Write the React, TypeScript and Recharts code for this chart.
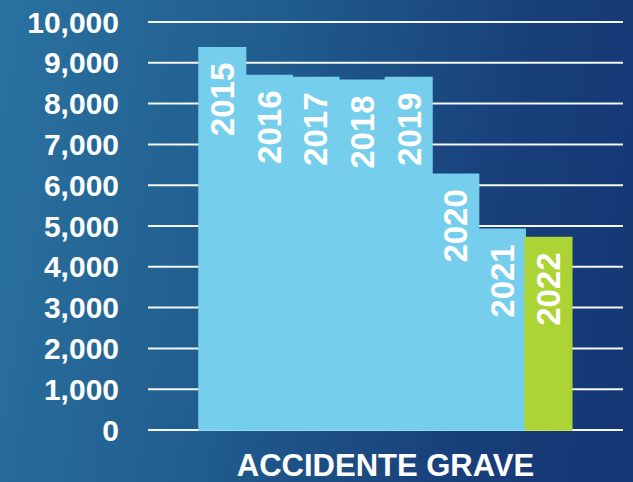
import { BarChart, Bar, XAxis, YAxis, CartesianGrid } from "recharts";

const CATEGORY = "ACCIDENTE GRAVE";
const YEARS = ["2015", "2016", "2017", "2018", "2019", "2020", "2021", "2022"];
const VALUES = [9370, 8690, 8640, 8570, 8640, 6270, 4920, 4720];
const COLORS = ["#75CEEC", "#75CEEC", "#75CEEC", "#75CEEC", "#75CEEC", "#75CEEC", "#75CEEC", "#ADD435"];
const Y_TICKS = [0, 1000, 2000, 3000, 4000, 5000, 6000, 7000, 8000, 9000, 10000];

const row: Record<string, string | number> = { name: CATEGORY };
YEARS.forEach((y, i) => {
  row[y] = VALUES[i];
});
const data = [row];

const FONT = "'Liberation Sans', Arial, sans-serif";

function yearLabel(year: string) {
  return (p: any) => {
    const cx = Number(p.x) + Number(p.width) / 2;
    const ty = Number(p.y) + 15;
    return (
      <text
        x={cx}
        y={ty}
        dy="0.36em"
        transform={`rotate(-90, ${cx}, ${ty})`}
        textAnchor="end"
        fill="#ffffff"
        fontSize={33}
        fontWeight="bold"
        fontFamily={FONT}
      >
        {year}
      </text>
    );
  };
}

export default function App() {
  return (
    <div
      style={{
        width: 633,
        height: 482,
        background: "linear-gradient(100deg, #2A72A0 0%, #205C8D 40%, #183F7A 75%, #143674 100%)",
      }}
    >
      <style>{"body{margin:0}"}</style>
      <BarChart
        width={633}
        height={482}
        data={data}
        margin={{ top: 22, right: 10, left: 0, bottom: 0 }}
        barGap={0}
      >
        <CartesianGrid vertical={false} stroke="#F4F6F8" strokeWidth={2} />
        <XAxis
          dataKey="name"
          axisLine={false}
          tickLine={false}
          height={52}
          tickMargin={18}
          tick={{ fill: "#ffffff", fontSize: 31, fontWeight: "bold", fontFamily: FONT }}
        />
        <YAxis
          width={148}
          domain={[0, 10000]}
          ticks={Y_TICKS}
          interval={0}
          axisLine={false}
          tickLine={false}
          tickMargin={23}
          tickFormatter={(v: number) => v.toLocaleString("en-US")}
          tick={{ fill: "#ffffff", fontSize: 30, fontWeight: "bold", fontFamily: FONT }}
        />
        {YEARS.map((y, i) => (
          <Bar
            key={y}
            dataKey={y}
            fill={COLORS[i]}
            stroke={COLORS[i]}
            strokeWidth={1.5}
            barSize={46.6}
            isAnimationActive={false}
            label={yearLabel(y)}
          />
        ))}
      </BarChart>
    </div>
  );
}
